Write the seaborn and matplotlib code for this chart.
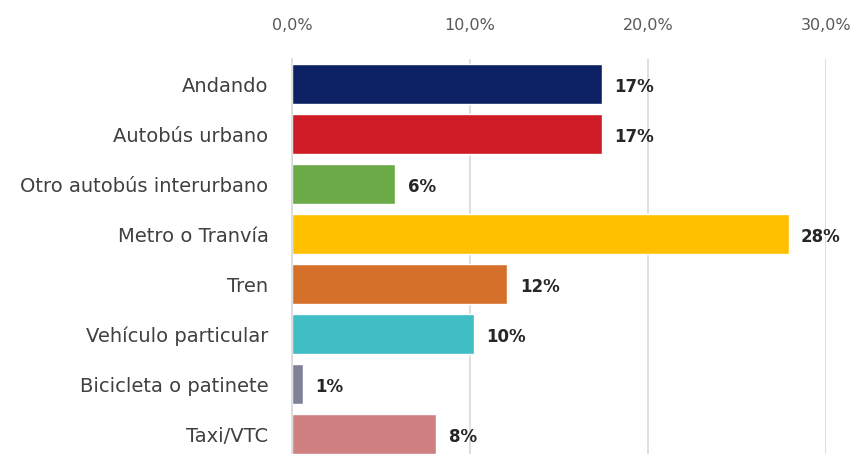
import matplotlib
matplotlib.use("Agg")
import matplotlib.pyplot as plt
import seaborn as sns
import pandas as pd
from matplotlib.ticker import FuncFormatter

categories = ["Andando", "Autobús urbano", "Otro autobús interurbano", "Metro o Tranvía",
              "Tren", "Vehículo particular", "Bicicleta o patinete", "Taxi/VTC"]
shares = [17.4, 17.4, 5.8, 27.9, 12.1, 10.2, 0.6, 8.1]
colors = ["#0B2163", "#CE1B26", "#6AAB47", "#FFC000", "#D5702B", "#40BDC5", "#7F8199", "#D08080"]
x_ticks = [0, 10, 20, 30]

df = pd.DataFrame({"modo": categories, "pct": shares})

sns.set_style("white")
plt.rcParams["font.family"] = ["DejaVu Sans"]

fig = plt.figure(figsize=(8.56, 4.54), dpi=100)
ax = fig.add_axes([292 / 856, 0.0, (826 - 292) / 856, 1 - 59 / 454])

sns.barplot(data=df, x="pct", y="modo", hue="modo", palette=colors, order=categories,
            hue_order=categories, orient="h", width=0.8, legend=False, ax=ax, saturation=1)

ax.set_xlim(0, 30)
ax.set_ylim(7.4, -0.5)
ax.set_xticks(x_ticks)
ax.xaxis.set_major_formatter(FuncFormatter(lambda v, p: f"{v:.1f}".replace(".", ",") + "%"))
ax.xaxis.tick_top()
ax.tick_params(axis="x", length=0, pad=19, labelsize=11.5, labelcolor="#595959")
ax.tick_params(axis="y", length=0, pad=17, labelsize=14, labelcolor="#404040")
ax.set_xlabel("")
ax.set_ylabel("")
ax.grid(axis="x", color="#d9d9d9", linewidth=1.2)
ax.set_axisbelow(True)
for s in ["top", "right", "bottom"]:
    ax.spines[s].set_visible(False)
ax.spines["left"].set_color("#d9d9d9")
ax.spines["left"].set_linewidth(1.2)

for i, v in enumerate(shares):
    ax.text(v + 0.7, i + 0.05, f"{v:.0f}%", va="center", ha="left",
            fontsize=12, fontweight="bold", color="#262626")

fig.savefig("out.png", dpi=100)
